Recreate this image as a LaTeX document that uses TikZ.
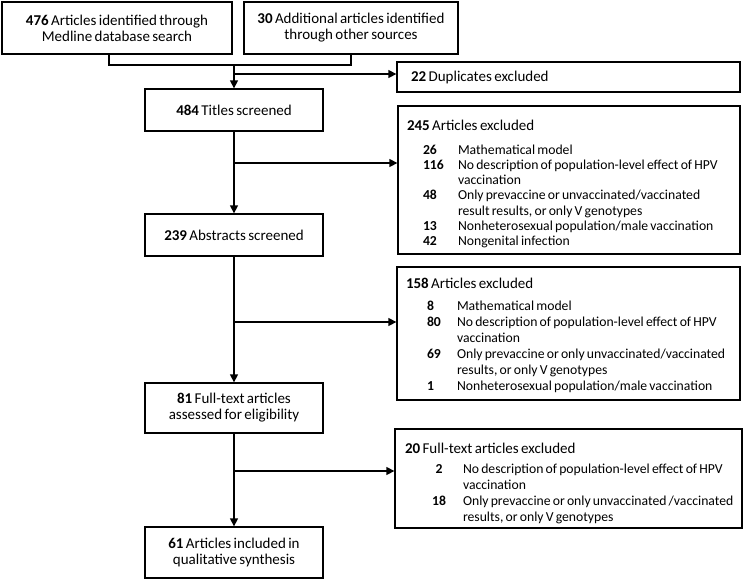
\documentclass[tikz,border=0pt]{standalone}
\usepackage{fontspec}
\setmainfont{Carlito}[WordSpace=0.7]
\usetikzlibrary{arrows.meta}
\hyphenpenalty=10000 \exhyphenpenalty=10000
\newcommand{\bodyfnt}{\fontsize{15}{16}\selectfont}
\newcommand{\lfntA}{\fontsize{13.7}{15.2}\selectfont}
\newcommand{\lfntB}{\fontsize{13.7}{16}\selectfont}
\newcommand{\lsp}{\spaceskip=0.16em\relax\xspaceskip=0.16em\relax}
\newcommand{\hdr}[1]{{\bodyfnt\lsp #1}}
\begin{document}
\begin{tikzpicture}[x=1pt,y=1pt,
  box/.style={draw, line width=1.3pt, inner sep=0pt, align=center, font=\bodyfnt},
  exbox/.style={draw, line width=1.3pt, inner ysep=0pt, align=left},
  conn/.style={line width=1.3pt},
  arr/.style={conn, -{Triangle[length=8pt,width=8pt]}}]
\useasboundingbox (0,0) rectangle (745,-581);
% main column
\node[box, minimum width=230, minimum height=52] (A) at (117,-28) {\textbf{476} Articles identified through\\Medline database search};
\node[box, minimum width=214, minimum height=52] (B) at (351,-28) {\textbf{30} Additional articles identified\\through other sources};
\node[box, minimum width=178, minimum height=42] (T) at (234,-110) {\textbf{484} Titles screened};
\node[box, minimum width=178, minimum height=42] (S) at (234,-235) {\textbf{239} Abstracts screened};
\node[box, minimum width=178, minimum height=50] (F) at (234,-408) {\textbf{81} Full-text articles\\assessed for eligibility};
\node[box, minimum width=178, minimum height=51] (I) at (234,-552.5) {\textbf{61} Articles included in\\qualitative synthesis};
% exclusion boxes
\node[exbox, minimum width=343, minimum height=30, text width=329, inner xsep=7pt, font=\bodyfnt] (D) at (568.5,-77) {\hspace*{7pt}\hdr{\textbf{22} Duplicates excluded}};
\node[exbox, minimum width=342, minimum height=148, text width=324, inner xsep=9pt, font=\lfntA] (E1) at (569,-180) {\lsp
\rule{0pt}{18pt}\hdr{\textbf{245} Articles excluded}\\[8.8pt]
\mbox{\hspace*{16pt}\makebox[35pt][l]{\textbf{26}}Mathematical model}\\
\mbox{\hspace*{16pt}\makebox[35pt][l]{\textbf{116}}No description of population-level effect of HPV}\\
\mbox{\hspace*{51pt}vaccination}\\
\mbox{\hspace*{16pt}\makebox[35pt][l]{\textbf{48}}Only prevaccine or unvaccinated/vaccinated}\\
\mbox{\hspace*{51pt}result results, or only V genotypes}\\
\mbox{\hspace*{16pt}\makebox[35pt][l]{\textbf{13}}Nonheterosexual population/male vaccination}\\
\mbox{\hspace*{16pt}\makebox[35pt][l]{\textbf{42}}Nongenital infection}};
\node[exbox, minimum width=343, minimum height=133, text width=325, inner xsep=9pt, font=\lfntB] (E2) at (568.5,-333.5) {\lsp
\rule{0pt}{14pt}\hdr{\textbf{158} Articles excluded}\\[6pt]
\mbox{\hspace*{21pt}\makebox[30pt][l]{\textbf{8}}Mathematical model}\\
\mbox{\hspace*{21pt}\makebox[30pt][l]{\textbf{80}}No description of population-level effect of HPV}\\
\mbox{\hspace*{51pt}vaccination}\\
\mbox{\hspace*{21pt}\makebox[30pt][l]{\textbf{69}}Only prevaccine or only unvaccinated/vaccinated}\\
\mbox{\hspace*{51pt}results, or only V genotypes}\\
\mbox{\hspace*{21pt}\makebox[30pt][l]{\textbf{1}}Nonheterosexual population/male vaccination}};
\node[exbox, minimum width=347, minimum height=99, text width=327, inner xsep=10pt, font=\lfntB] (E3) at (568.5,-478.5) {\lsp
\rule{0pt}{21pt}\hdr{\textbf{20} Full-text articles excluded}\\[4pt]
\mbox{\hspace*{24pt}\makebox[20pt][c]{\textbf{2}}\hspace*{14pt}No description of population-level effect of HPV}\\
\mbox{\hspace*{58pt}vaccination}\\
\mbox{\hspace*{24pt}\makebox[20pt][c]{\textbf{18}}\hspace*{14pt}Only prevaccine or only unvaccinated /vaccinated}\\
\mbox{\hspace*{58pt}results, or only V genotypes}};
% connectors
\coordinate (m) at (234,-65);
\coordinate (d) at (234,-74);
\draw[conn] ([xshift=-8pt]A.south) |- (m) -| (B.south);
\draw[arr] (m) -- (T.north);
\draw[arr] (d) -- (D.west |- d);
\draw[arr] (T.south) -- (S.north);
\draw[arr] (T.south |- 0,-163) -- (E1.west |- 0,-163);
\draw[arr] (S.south) -- (F.north);
\draw[arr] (S.south |- 0,-322) -- (E2.west |- 0,-322);
\draw[arr] (F.south) -- (I.north);
\draw[arr] (F.south |- 0,-471) -- (E3.west |- 0,-471);
\end{tikzpicture}
\end{document}
